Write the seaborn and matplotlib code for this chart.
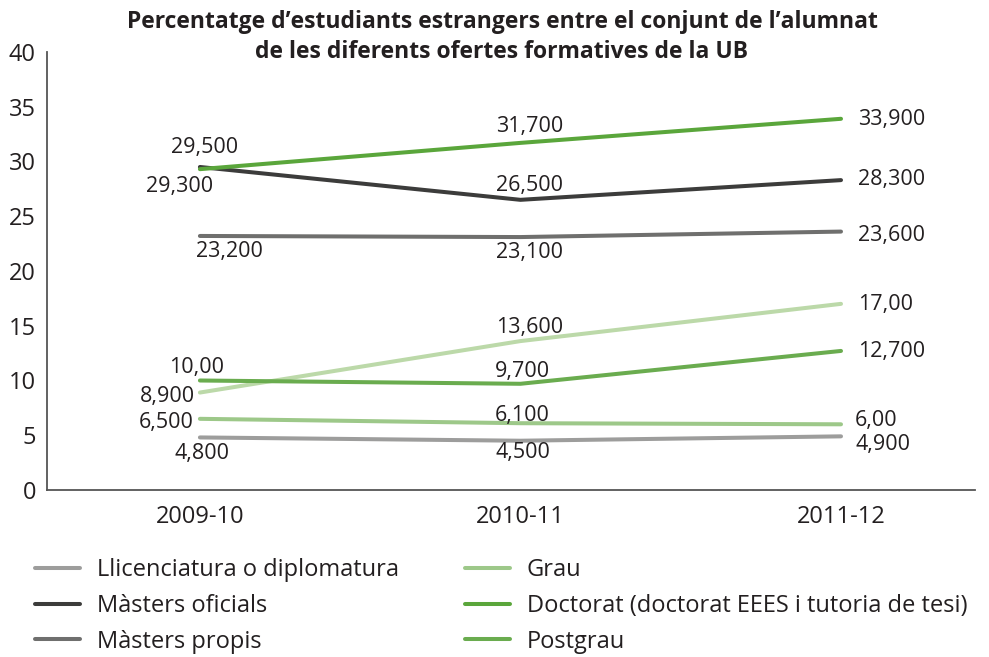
import matplotlib
matplotlib.use("Agg")
import matplotlib.pyplot as plt
import seaborn as sns
import pandas as pd
from matplotlib.lines import Line2D

years = ["2009-10", "2010-11", "2011-12"]

llicenciatura = [4.8, 4.5, 4.9]
masters_oficials = [29.5, 26.5, 28.3]
masters_propis = [23.2, 23.1, 23.6]
grau = [6.5, 6.1, 6.0]
doctorat = [29.3, 31.7, 33.9]
postgrau = [10.0, 9.7, 12.7]
extra = [8.9, 13.6, 17.0]

lab_llic = ["4,800", "4,500", "4,900"]
lab_mo = ["29,500", "26,500", "28,300"]
lab_mp = ["23,200", "23,100", "23,600"]
lab_grau = ["6,500", "6,100", "6,00"]
lab_doct = ["29,300", "31,700", "33,900"]
lab_post = ["10,00", "9,700", "12,700"]
lab_extra = ["8,900", "13,600", "17,00"]

names = ["Llicenciatura o diplomatura", "Màsters oficials", "Màsters propis",
         "Grau", "Doctorat (doctorat EEES i tutoria de tesi)", "Postgrau", "_extra"]
series = [llicenciatura, masters_oficials, masters_propis, grau, doctorat, postgrau, extra]
labels = [lab_llic, lab_mo, lab_mp, lab_grau, lab_doct, lab_post, lab_extra]
colors = ["#9d9d9c", "#3c3c3b", "#6f6f6e", "#9dc889", "#5aa63b", "#6aac4f", "#bcd9a9"]

# label offsets in pixels (dx, dy, ha) for each point
offsets = [
    [(2, -16, "center"), (2, -12, "center"), (14, -8, "left")],
    [(5, 19, "center"), (9, 14, "center"), (17, 1, "left")],
    [(30, -16, "center"), (9, -15, "center"), (17, -4, "left")],
    [(-6, -4, "right"), (2, 8, "center"), (14, 4, "left")],
    [(-20, -17, "center"), (9, 16, "center"), (17, -1, "left")],
    [(-3, 13, "center"), (2, 12, "center"), (17, -1, "left")],
    [(-5, -4, "right"), (9, 14, "center"), (17, -1, "left")],
]

rows = []
for n, s in zip(names, series):
    for i, v in enumerate(s):
        rows.append({"serie": n, "x": i, "val": v})
df = pd.DataFrame(rows)

sns.set_style("white")
plt.rcParams["font.family"] = ["Open Sans", "DejaVu Sans"]
TXT = "#231f20"

fig = plt.figure(figsize=(9.89, 6.57), dpi=100)
ax = fig.add_axes([47 / 989, 1 - 490 / 657, (975 - 47) / 989, (490 - 52) / 657])

order = [6, 0, 3, 5, 2, 1, 4]
for k in order:
    sub = df[df["serie"] == names[k]]
    sns.lineplot(data=sub, x="x", y="val", ax=ax, color=colors[k], linewidth=2.9,
                 solid_capstyle="round", legend=False)
    for i, v in enumerate(series[k]):
        dx, dy, ha = offsets[k][i]
        ax.annotate(labels[k][i], (i, v), xytext=(dx, dy), textcoords="offset pixels",
                    ha=ha, va="center", fontsize=15.5, color=TXT)

ax.set_xlim(-0.477, 2.418)
ax.set_ylim(0, 40)
ax.set_yticks(range(0, 41, 5))
ax.set_xticks([0, 1, 2])
ax.set_xticklabels(years)
ax.set_xticks([0.52, 1.51], minor=True)
ax.tick_params(axis="x", which="major", length=0, pad=11, labelsize=17, colors=TXT)
ax.tick_params(axis="x", which="minor", length=6, width=1.3, color="#555555", direction="out")
ax.tick_params(axis="y", length=5, width=1.3, color="#555555", direction="out",
               labelsize=17, labelcolor=TXT, pad=3)
ax.set_xlabel("")
ax.set_ylabel("")
for sp in ["top", "right"]:
    ax.spines[sp].set_visible(False)
for sp in ["left", "bottom"]:
    ax.spines[sp].set_color("#555555")
    ax.spines[sp].set_linewidth(1.3)

fig.text(502 / 989, 1 - 22 / 657, "Percentatge d’estudiants estrangers entre el conjunt de l’alumnat",
         ha="center", va="center", fontsize=16.5, fontweight="bold", color=TXT)
fig.text(502 / 989, 1 - 52 / 657, "de les diferents ofertes formatives de la UB",
         ha="center", va="center", fontsize=16.5, fontweight="bold", color=TXT)

handles = [Line2D([0], [0], color=colors[k], linewidth=2.9) for k in range(6)]
common = dict(loc="upper left", frameon=False, fontsize=17, handlelength=1.9,
              handletextpad=0.72, labelspacing=0.5, labelcolor=TXT,
              borderpad=0, borderaxespad=0)
leg1 = fig.legend(handles[:3], names[:3], bbox_to_anchor=(35 / 989, 1 - 558 / 657), **common)
leg2 = fig.legend(handles[3:6], names[3:6], bbox_to_anchor=(465 / 989, 1 - 558 / 657), **common)

fig.savefig("out.png", dpi=100)
